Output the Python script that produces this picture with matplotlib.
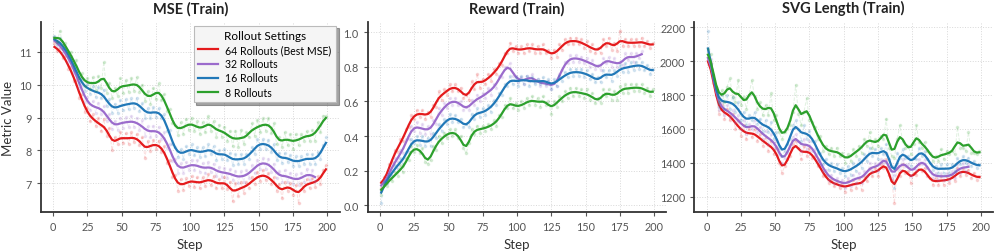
import numpy as np
import matplotlib
matplotlib.use("Agg")
from matplotlib import pyplot as plt

plt.rcParams["font.family"] = ["Lato", "DejaVu Sans"]

# raw logged values, every 2 steps starting at step 1
steps = np.arange(1, 200, 2)
steps_32 = np.arange(1, 192, 2)

labels = ["64 Rollouts (Best MSE)", "32 Rollouts", "16 Rollouts", "8 Rollouts"]
colors = ["#e41a1c", "#9b6bcc", "#2178b8", "#2ca02c"]

mse_64 = [
    11.25, 11.02, 11.12, 10.80, 10.88, 10.48, 10.55, 10.12, 10.15, 9.60,
    9.70, 9.18, 9.30, 8.88, 9.10, 8.75, 8.98, 8.58, 8.95, 8.45,
    8.68, 8.00, 8.40, 8.20, 8.55, 8.22, 8.52, 8.20, 8.55, 8.25,
    8.50, 8.15, 8.40, 7.78, 8.30, 7.98, 8.32, 8.05, 8.30, 7.95,
    8.12, 7.62, 7.70, 7.18, 7.25, 6.78, 7.12, 6.80, 7.15, 6.92,
    7.22, 6.90, 7.18, 6.85, 7.20, 6.92, 7.28, 6.95, 7.22, 6.85,
    7.12, 6.85, 7.20, 6.82, 7.05, 6.45, 7.02, 6.60, 7.05, 6.72,
    7.05, 6.85, 7.20, 6.98, 7.35, 7.08, 7.40, 7.10, 7.32, 6.98,
    7.18, 6.78, 6.98, 6.55, 7.05, 6.78, 7.00, 6.65, 6.95, 6.39,
    7.00, 6.78, 7.12, 6.85, 7.15, 6.90, 7.22, 6.98, 7.40, 7.55]
mse_32 = [
    11.45, 11.18, 11.32, 10.95, 11.08, 10.70, 10.80, 10.35, 10.42, 9.90,
    10.00, 9.48, 9.62, 9.22, 9.50, 9.15, 9.45, 9.12, 9.35, 8.90,
    9.10, 8.65, 8.90, 8.62, 9.00, 8.68, 9.02, 8.70, 9.05, 8.72,
    9.00, 8.62, 8.92, 8.45, 8.75, 8.40, 8.75, 8.45, 8.72, 8.35,
    8.55, 8.08, 8.20, 7.68, 7.75, 7.32, 7.62, 7.30, 7.65, 7.40,
    7.72, 7.40, 7.70, 7.35, 7.62, 7.30, 7.65, 7.35, 7.60, 7.22,
    7.50, 7.18, 7.48, 7.15, 7.45, 7.10, 7.38, 7.02, 7.38, 7.05,
    7.40, 7.15, 7.55, 7.30, 7.72, 7.45, 7.78, 7.45, 7.75, 7.35,
    7.60, 7.15, 7.38, 7.05, 7.40, 7.05, 7.32, 6.98, 7.28, 6.95,
    7.32, 7.05, 7.45, 7.10, 7.40, 7.06]
mse_16 = [
    11.48, 11.22, 11.42, 11.08, 11.15, 10.85, 10.88, 10.45, 10.55, 10.05,
    10.18, 9.80, 10.02, 9.72, 9.95, 9.62, 9.92, 9.58, 9.85, 9.35,
    9.55, 9.15, 9.42, 9.15, 9.52, 9.22, 9.55, 9.25, 9.58, 9.30,
    9.60, 9.20, 9.45, 9.00, 9.28, 8.98, 9.32, 9.02, 9.30, 8.98,
    9.10, 8.60, 8.62, 8.18, 8.10, 7.80, 8.05, 7.75, 8.12, 7.88,
    8.18, 7.85, 8.10, 7.80, 8.10, 7.82, 8.18, 7.88, 8.12, 7.72,
    8.00, 7.75, 8.05, 7.70, 7.92, 7.55, 7.88, 7.58, 7.88, 7.60,
    7.90, 7.75, 8.10, 7.88, 8.35, 8.05, 8.35, 8.05, 8.32, 7.95,
    8.20, 7.70, 7.92, 7.62, 7.92, 7.65, 7.85, 7.52, 7.82, 7.52,
    7.82, 7.60, 7.90, 7.60, 7.88, 7.58, 7.95, 7.75, 8.15, 8.40]
mse_8 = [
    11.45, 11.30, 11.64, 11.20, 11.25, 10.95, 11.00, 10.60, 10.75, 10.20,
    10.35, 9.95, 10.20, 9.88, 10.22, 9.85, 10.25, 9.90, 10.70, 9.75,
    10.05, 9.58, 9.90, 9.65, 10.20, 9.75, 10.15, 9.78, 10.20, 9.82,
    10.22, 9.78, 10.00, 9.50, 9.80, 9.42, 9.90, 9.55, 10.05, 9.52,
    9.70, 9.20, 9.25, 8.82, 8.78, 8.48, 8.85, 8.50, 8.95, 8.62,
    9.00, 8.58, 8.88, 8.50, 8.85, 8.55, 9.05, 8.60, 8.90, 8.42,
    8.78, 8.42, 8.72, 8.30, 8.60, 8.12, 8.60, 8.10, 8.62, 8.18,
    8.55, 8.40, 8.82, 8.45, 8.92, 8.55, 8.98, 8.60, 9.00, 8.52,
    8.82, 8.18, 8.40, 8.10, 8.55, 8.15, 8.50, 8.05, 8.50, 8.15,
    8.50, 8.30, 8.58, 8.28, 8.62, 8.30, 8.85, 8.55, 9.05, 9.05]

reward_64 = [
    0.10, 0.16, 0.15, 0.24, 0.25, 0.32, 0.31, 0.38, 0.37, 0.44,
    0.45, 0.52, 0.50, 0.55, 0.51, 0.55, 0.50, 0.54, 0.51, 0.58,
    0.57, 0.66, 0.61, 0.67, 0.64, 0.70, 0.66, 0.70, 0.66, 0.68,
    0.62, 0.64, 0.61, 0.72, 0.67, 0.76, 0.68, 0.73, 0.70, 0.76,
    0.72, 0.79, 0.76, 0.82, 0.81, 0.88, 0.88, 0.94, 0.89, 0.92,
    0.88, 0.92, 0.88, 0.93, 0.89, 0.93, 0.88, 0.92, 0.88, 0.93,
    0.88, 0.90, 0.85, 0.90, 0.86, 0.93, 0.90, 0.96, 0.93, 0.97,
    0.93, 0.97, 0.93, 0.96, 0.91, 0.95, 0.89, 0.93, 0.88, 0.91,
    0.88, 0.96, 0.92, 0.97, 0.90, 0.94, 0.89, 1.01, 0.92, 0.96,
    0.92, 0.96, 0.92, 0.96, 0.92, 0.97, 0.92, 0.95, 0.91, 0.94]
reward_32 = [
    0.09, 0.14, 0.13, 0.21, 0.20, 0.27, 0.25, 0.32, 0.30, 0.38,
    0.38, 0.46, 0.43, 0.48, 0.42, 0.47, 0.41, 0.46, 0.41, 0.49,
    0.47, 0.56, 0.52, 0.59, 0.56, 0.62, 0.58, 0.62, 0.58, 0.60,
    0.55, 0.57, 0.55, 0.61, 0.58, 0.64, 0.60, 0.65, 0.62, 0.68,
    0.64, 0.70, 0.68, 0.75, 0.74, 0.80, 0.80, 0.82, 0.75, 0.75,
    0.71, 0.74, 0.70, 0.75, 0.72, 0.76, 0.71, 0.73, 0.69, 0.72,
    0.69, 0.72, 0.67, 0.71, 0.69, 0.76, 0.78, 0.83, 0.82, 0.87,
    0.83, 0.87, 0.83, 0.86, 0.82, 0.85, 0.80, 0.84, 0.79, 0.81,
    0.78, 0.85, 0.82, 0.86, 0.80, 0.85, 0.80, 0.83, 0.81, 0.88,
    0.84, 0.88, 0.83, 0.88, 0.85, 0.89]
reward_16 = [
    0.01, 0.14, 0.13, 0.18, 0.17, 0.23, 0.21, 0.27, 0.24, 0.31,
    0.31, 0.38, 0.36, 0.40, 0.35, 0.40, 0.34, 0.39, 0.34, 0.42,
    0.39, 0.47, 0.43, 0.50, 0.47, 0.53, 0.48, 0.52, 0.48, 0.50,
    0.45, 0.47, 0.45, 0.53, 0.50, 0.56, 0.51, 0.56, 0.52, 0.58,
    0.54, 0.61, 0.58, 0.65, 0.64, 0.70, 0.69, 0.75, 0.70, 0.74,
    0.69, 0.75, 0.70, 0.75, 0.69, 0.74, 0.70, 0.73, 0.70, 0.74,
    0.70, 0.73, 0.67, 0.73, 0.69, 0.75, 0.72, 0.77, 0.74, 0.79,
    0.75, 0.79, 0.75, 0.79, 0.74, 0.78, 0.73, 0.76, 0.71, 0.74,
    0.71, 0.78, 0.74, 0.78, 0.72, 0.78, 0.75, 0.81, 0.77, 0.82,
    0.77, 0.83, 0.78, 0.83, 0.79, 0.83, 0.78, 0.81, 0.76, 0.79]
reward_8 = [
    0.06, 0.12, 0.11, 0.16, 0.14, 0.19, 0.17, 0.23, 0.19, 0.27,
    0.26, 0.34, 0.31, 0.35, 0.30, 0.33, 0.25, 0.24, 0.26, 0.34,
    0.32, 0.40, 0.36, 0.42, 0.39, 0.44, 0.40, 0.44, 0.39, 0.40,
    0.33, 0.30, 0.36, 0.44, 0.41, 0.46, 0.42, 0.46, 0.43, 0.47,
    0.44, 0.49, 0.46, 0.52, 0.51, 0.58, 0.56, 0.62, 0.56, 0.59,
    0.55, 0.60, 0.56, 0.62, 0.58, 0.63, 0.58, 0.62, 0.57, 0.63,
    0.58, 0.60, 0.53, 0.60, 0.57, 0.63, 0.60, 0.66, 0.62, 0.68,
    0.63, 0.68, 0.63, 0.67, 0.62, 0.67, 0.61, 0.65, 0.59, 0.62,
    0.59, 0.67, 0.63, 0.67, 0.61, 0.66, 0.61, 0.69, 0.65, 0.70,
    0.65, 0.70, 0.66, 0.70, 0.66, 0.70, 0.65, 0.68, 0.63, 0.67]

svg_64 = [
    2040, 1990, 1870, 1800, 1690, 1740, 1660, 1720, 1650, 1690,
    1600, 1650, 1560, 1620, 1540, 1600, 1550, 1600, 1530, 1570,
    1500, 1550, 1470, 1530, 1450, 1490, 1400, 1340, 1380, 1420,
    1440, 1510, 1530, 1490, 1420, 1500, 1440, 1490, 1430, 1440,
    1380, 1390, 1320, 1330, 1280, 1300, 1260, 1290, 1250, 1280,
    1230, 1290, 1240, 1300, 1250, 1310, 1240, 1320, 1290, 1370,
    1320, 1370, 1320, 1390, 1370, 1420, 1330, 1300, 1160, 1370,
    1320, 1390, 1340, 1350, 1280, 1340, 1330, 1390, 1350, 1370,
    1320, 1310, 1270, 1310, 1270, 1320, 1270, 1320, 1280, 1330,
    1290, 1370, 1320, 1370, 1330, 1360, 1310, 1340, 1300, 1320]
svg_32 = [
    2060, 2010, 1890, 1820, 1710, 1760, 1680, 1740, 1670, 1710,
    1640, 1680, 1600, 1650, 1570, 1630, 1600, 1650, 1580, 1610,
    1540, 1590, 1510, 1570, 1490, 1530, 1450, 1400, 1430, 1460,
    1490, 1550, 1570, 1530, 1470, 1540, 1480, 1530, 1470, 1480,
    1410, 1420, 1350, 1360, 1300, 1330, 1280, 1310, 1270, 1300,
    1250, 1310, 1260, 1330, 1280, 1340, 1280, 1350, 1320, 1400,
    1350, 1400, 1350, 1420, 1400, 1460, 1370, 1310, 1330, 1390,
    1360, 1420, 1380, 1390, 1320, 1370, 1360, 1420, 1390, 1420,
    1370, 1350, 1310, 1340, 1300, 1340, 1300, 1340, 1300, 1350,
    1310, 1390, 1340, 1400, 1350, 1390]
svg_16 = [
    2180, 1990, 1900, 1830, 1730, 1800, 1720, 1800, 1720, 1790,
    1700, 1760, 1650, 1700, 1620, 1680, 1650, 1700, 1630, 1660,
    1590, 1650, 1580, 1640, 1540, 1580, 1490, 1440, 1470, 1510,
    1540, 1620, 1650, 1600, 1530, 1620, 1540, 1590, 1530, 1530,
    1460, 1460, 1390, 1420, 1360, 1400, 1350, 1390, 1340, 1370,
    1320, 1380, 1330, 1400, 1350, 1420, 1370, 1450, 1410, 1490,
    1440, 1480, 1420, 1490, 1450, 1510, 1420, 1380, 1250, 1460,
    1430, 1480, 1430, 1440, 1380, 1430, 1420, 1490, 1440, 1470,
    1420, 1400, 1360, 1380, 1340, 1390, 1340, 1390, 1340, 1390,
    1350, 1430, 1390, 1440, 1400, 1430, 1380, 1410, 1370, 1390]
svg_8 = [
    2070, 2040, 1920, 1850, 1760, 1830, 1760, 1850, 1900, 1790,
    1760, 1890, 1740, 1790, 1720, 1800, 1890, 1790, 1720, 1760,
    1680, 1740, 1680, 1810, 1650, 1680, 1580, 1540, 1580, 1600,
    1620, 1700, 1860, 1690, 1620, 1700, 1780, 1650, 1640, 1610,
    1540, 1560, 1470, 1500, 1450, 1490, 1440, 1490, 1440, 1460,
    1400, 1450, 1410, 1480, 1440, 1500, 1460, 1540, 1500, 1580,
    1490, 1540, 1500, 1560, 1540, 1660, 1490, 1440, 1430, 1540,
    1620, 1530, 1490, 1500, 1450, 1510, 1620, 1520, 1490, 1520,
    1470, 1460, 1410, 1440, 1410, 1480, 1420, 1470, 1450, 1470,
    1450, 1610, 1490, 1490, 1470, 1580, 1460, 1460, 1450, 1470]

panels = [
    ("MSE (Train)", [mse_64, mse_32, mse_16, mse_8], [7, 8, 9, 10, 11], "{:.0f}"),
    ("Reward (Train)", [reward_64, reward_32, reward_16, reward_8],
     [0.0, 0.2, 0.4, 0.6, 0.8, 1.0], "{:.1f}"),
    ("SVG Length (Train)", [svg_64, svg_32, svg_16, svg_8],
     [1200, 1400, 1600, 1800, 2000, 2200], "{:.0f}"),
]


def gauss_smooth(v, sigma=1.15):
    v = np.asarray(v, dtype=float)
    i = np.arange(len(v))
    w = np.exp(-0.5 * ((i[:, None] - i[None, :]) / sigma) ** 2)
    return (w @ v) / w.sum(axis=1)


fig, axes = plt.subplots(1, 3, figsize=(9.97, 2.53), dpi=100)
fig.subplots_adjust(left=0.041, right=0.996, bottom=0.158, top=0.909, wspace=0.094)

for ax, (title, series, yticks, fmt) in zip(axes, panels):
    handles = []
    for vals, col, lab in zip(series, colors, labels):
        x = steps if len(vals) == len(steps) else steps_32
        ax.plot(x, vals, ls="--", lw=0.7, marker="o", ms=1.6, color=col, alpha=0.14)
        h, = ax.plot(x, gauss_smooth(vals), lw=1.6, color=col, label=lab)
        handles.append(h)

    ax.set_title(title, fontsize=10.5, fontweight="bold", color="#222222", pad=7)
    ax.set_xlabel("Step", fontsize=9.5, color="#333333")
    ax.set_xticks(range(0, 201, 25))
    ax.set_yticks(yticks)
    ax.set_yticklabels([fmt.format(t) for t in yticks])
    ax.tick_params(labelsize=7.8, colors="#555555", length=3, width=0.8)
    ax.grid(True, color="#d8d8d8", ls=":", lw=0.7)
    for s in ["top", "right"]:
        ax.spines[s].set_visible(False)
    for s in ["left", "bottom"]:
        ax.spines[s].set_color("#333333")
        ax.spines[s].set_linewidth(1.3)

axes[0].set_ylabel("Metric Value", fontsize=9.5, color="#333333")
leg = axes[0].legend(handles=handles, title="Rollout Settings", loc="upper right",
                     fontsize=7.6, title_fontsize=8.5, frameon=True, fancybox=False,
                     shadow=True, handlelength=1.9, handletextpad=0.7,
                     borderaxespad=0.35, labelspacing=0.3)
leg.get_frame().set_facecolor("#f5f5f5")
leg.get_frame().set_edgecolor("#bbbbbb")
leg.get_frame().set_linewidth(0.8)

plt.savefig("out.png", dpi=100)
plt.close()
